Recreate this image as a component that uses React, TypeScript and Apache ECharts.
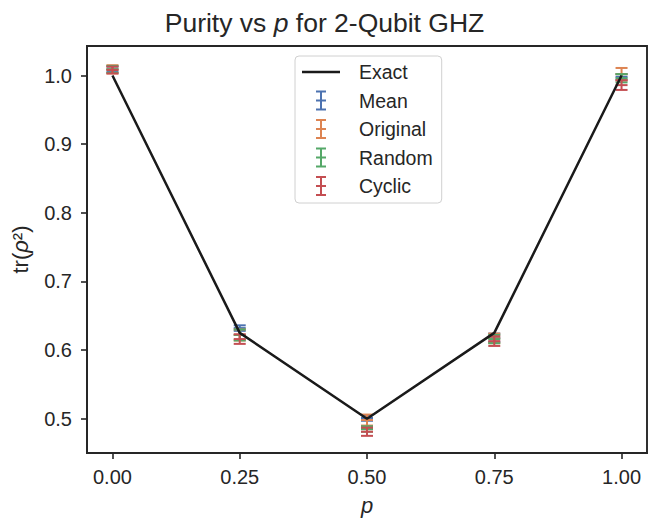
import React, { useEffect, useRef } from "react";
import * as echarts from "echarts";

const pValues = [0, 0.25, 0.5, 0.75, 1];
const exactPurity = [1, 0.625, 0.5, 0.625, 1];
const meanVals = [1.009, 0.632, 0.501, 0.618, 0.998];
const meanErr = [0.004, 0.004, 0.004, 0.006, 0.004];
const originalVals = [1.009, 0.622, 0.498, 0.617, 1.002];
const originalErr = [0.006, 0.008, 0.008, 0.007, 0.009];
const randomVals = [1.009, 0.622, 0.485, 0.616, 0.996];
const randomErr = [0.005, 0.008, 0.004, 0.006, 0.006];
const cyclicVals = [1.008, 0.616, 0.481, 0.613, 0.986];
const cyclicErr = [0.005, 0.007, 0.006, 0.007, 0.007];
const xTicks = [0, 0.25, 0.5, 0.75, 1];
const yTicks = [0.5, 0.6, 0.7, 0.8, 0.9, 1.0];

const COLORS = ["#4C72B0", "#DD8452", "#55A868", "#C44E52"];
const INK = "#262626";
const FONT = "'Liberation Sans', Arial, sans-serif";

const ERR_ICON =
  "path://M0,0 L10,0 L10,2 L6,2 L6,9 L10,9 L10,11 L6,11 L6,18 L10,18 L10,20 L0,20 L0,18 L4,18 L4,11 L0,11 L0,9 L4,9 L4,2 L0,2 Z";
const LINE_ICON = "path://M0,0 L38,0 L38,2.6 L0,2.6 Z";

const renderErr = (params: any, api: any) => {
  const x = api.value(0);
  const y = api.value(1);
  const e = api.value(2);
  const top = api.coord([x, y + e]);
  const bot = api.coord([x, y - e]);
  const mid = api.coord([x, y]);
  const hw = 6;
  const style = { stroke: api.visual("color"), lineWidth: 2 };
  return {
    type: "group",
    children: [
      { type: "line", shape: { x1: top[0], y1: top[1], x2: bot[0], y2: bot[1] }, style },
      { type: "line", shape: { x1: top[0] - hw, y1: top[1], x2: top[0] + hw, y2: top[1] }, style },
      { type: "line", shape: { x1: bot[0] - hw, y1: bot[1], x2: bot[0] + hw, y2: bot[1] }, style },
      { type: "line", shape: { x1: mid[0] - hw, y1: mid[1], x2: mid[0] + hw, y2: mid[1] }, style },
    ],
  };
};

const errSeries = (name: string, vals: number[], errs: number[], color: string, z: number) => ({
  name,
  type: "custom",
  renderItem: renderErr,
  data: pValues.map((p, i) => [p, vals[i], errs[i]]),
  encode: { x: 0, y: 1 },
  itemStyle: { color },
  z,
});

export default function App() {
  const ref = useRef<HTMLDivElement>(null);
  useEffect(() => {
    if (!ref.current) return;
    const chart = echarts.init(ref.current, undefined, { renderer: "svg" });
    chart.setOption({
      animation: false,
      backgroundColor: "#ffffff",
      textStyle: { fontFamily: FONT, color: INK },
      title: {
        text: "Purity vs {i|p} for 2-Qubit GHZ",
        left: "center",
        top: 4,
        textStyle: {
          fontFamily: FONT,
          fontSize: 26.5,
          fontWeight: "normal",
          color: INK,
          rich: { i: { fontStyle: "italic", fontSize: 26.5, fontFamily: FONT, color: INK } },
        },
      },
      grid: {
        left: 87,
        right: 2,
        top: 46,
        bottom: 61,
        show: true,
        borderColor: INK,
        borderWidth: 1.9,
      },
      legend: {
        orient: "vertical",
        left: 295,
        top: 56,
        padding: [6, 9, 7, 7],
        itemWidth: 38,
        itemHeight: 20,
        itemGap: 8.5,
        borderColor: "#d0d0d0",
        borderWidth: 1,
        borderRadius: 4,
        backgroundColor: "rgba(255,255,255,0.8)",
        textStyle: { fontFamily: FONT, fontSize: 19.5, color: INK, padding: [0, 0, 0, 14] },
        data: [
          { name: "Exact", icon: LINE_ICON },
          { name: "Mean", icon: ERR_ICON },
          { name: "Original", icon: ERR_ICON },
          { name: "Random", icon: ERR_ICON },
          { name: "Cyclic", icon: ERR_ICON },
        ],
      },
      xAxis: {
        type: "value",
        min: -0.05,
        max: 1.05,
        name: "{i|p}",
        nameLocation: "middle",
        nameGap: 41,
        nameTextStyle: {
          rich: { i: { fontStyle: "italic", fontSize: 22, fontFamily: FONT, color: INK } },
        },
        axisLine: { show: true, onZero: false, lineStyle: { color: INK, width: 1.9 } },
        axisTick: {
          show: true,
          inside: false,
          length: 6,
          lineStyle: { color: INK, width: 1.6 },
          customValues: xTicks,
        },
        axisLabel: {
          fontSize: 20,
          fontFamily: FONT,
          color: INK,
          margin: 14,
          customValues: xTicks,
          formatter: (v: number) => v.toFixed(2),
        },
        splitLine: { show: false },
      },
      yAxis: {
        type: "value",
        min: 0.45,
        max: 1.043,
        name: "tr({i|ρ}²)",
        nameLocation: "middle",
        nameGap: 56,
        nameRotate: 90,
        nameTextStyle: {
          fontSize: 22,
          fontFamily: FONT,
          color: INK,
          rich: { i: { fontStyle: "italic", fontSize: 22, fontFamily: FONT, color: INK } },
        },
        axisLine: { show: true, onZero: false, lineStyle: { color: INK, width: 1.9 } },
        axisTick: {
          show: true,
          inside: false,
          length: 6,
          lineStyle: { color: INK, width: 1.6 },
          customValues: yTicks,
        },
        axisLabel: {
          fontSize: 20,
          fontFamily: FONT,
          color: INK,
          margin: 15,
          customValues: yTicks,
          formatter: (v: number) => v.toFixed(1),
        },
        splitLine: { show: false },
      },
      series: [
        errSeries("Mean", meanVals, meanErr, COLORS[0], 2),
        errSeries("Original", originalVals, originalErr, COLORS[1], 3),
        errSeries("Random", randomVals, randomErr, COLORS[2], 4),
        errSeries("Cyclic", cyclicVals, cyclicErr, COLORS[3], 5),
        {
          name: "Exact",
          type: "line",
          data: pValues.map((p, i) => [p, exactPurity[i]]),
          symbol: "none",
          lineStyle: { color: "#1a1a1a", width: 2.5 },
          itemStyle: { color: "#1a1a1a" },
          z: 6,
        },
      ],
    });
    return () => chart.dispose();
  }, []);
  return (
    <div
      ref={ref}
      style={{ position: "fixed", left: 0, top: 0, width: 649, height: 521, background: "#fff" }}
    />
  );
}
